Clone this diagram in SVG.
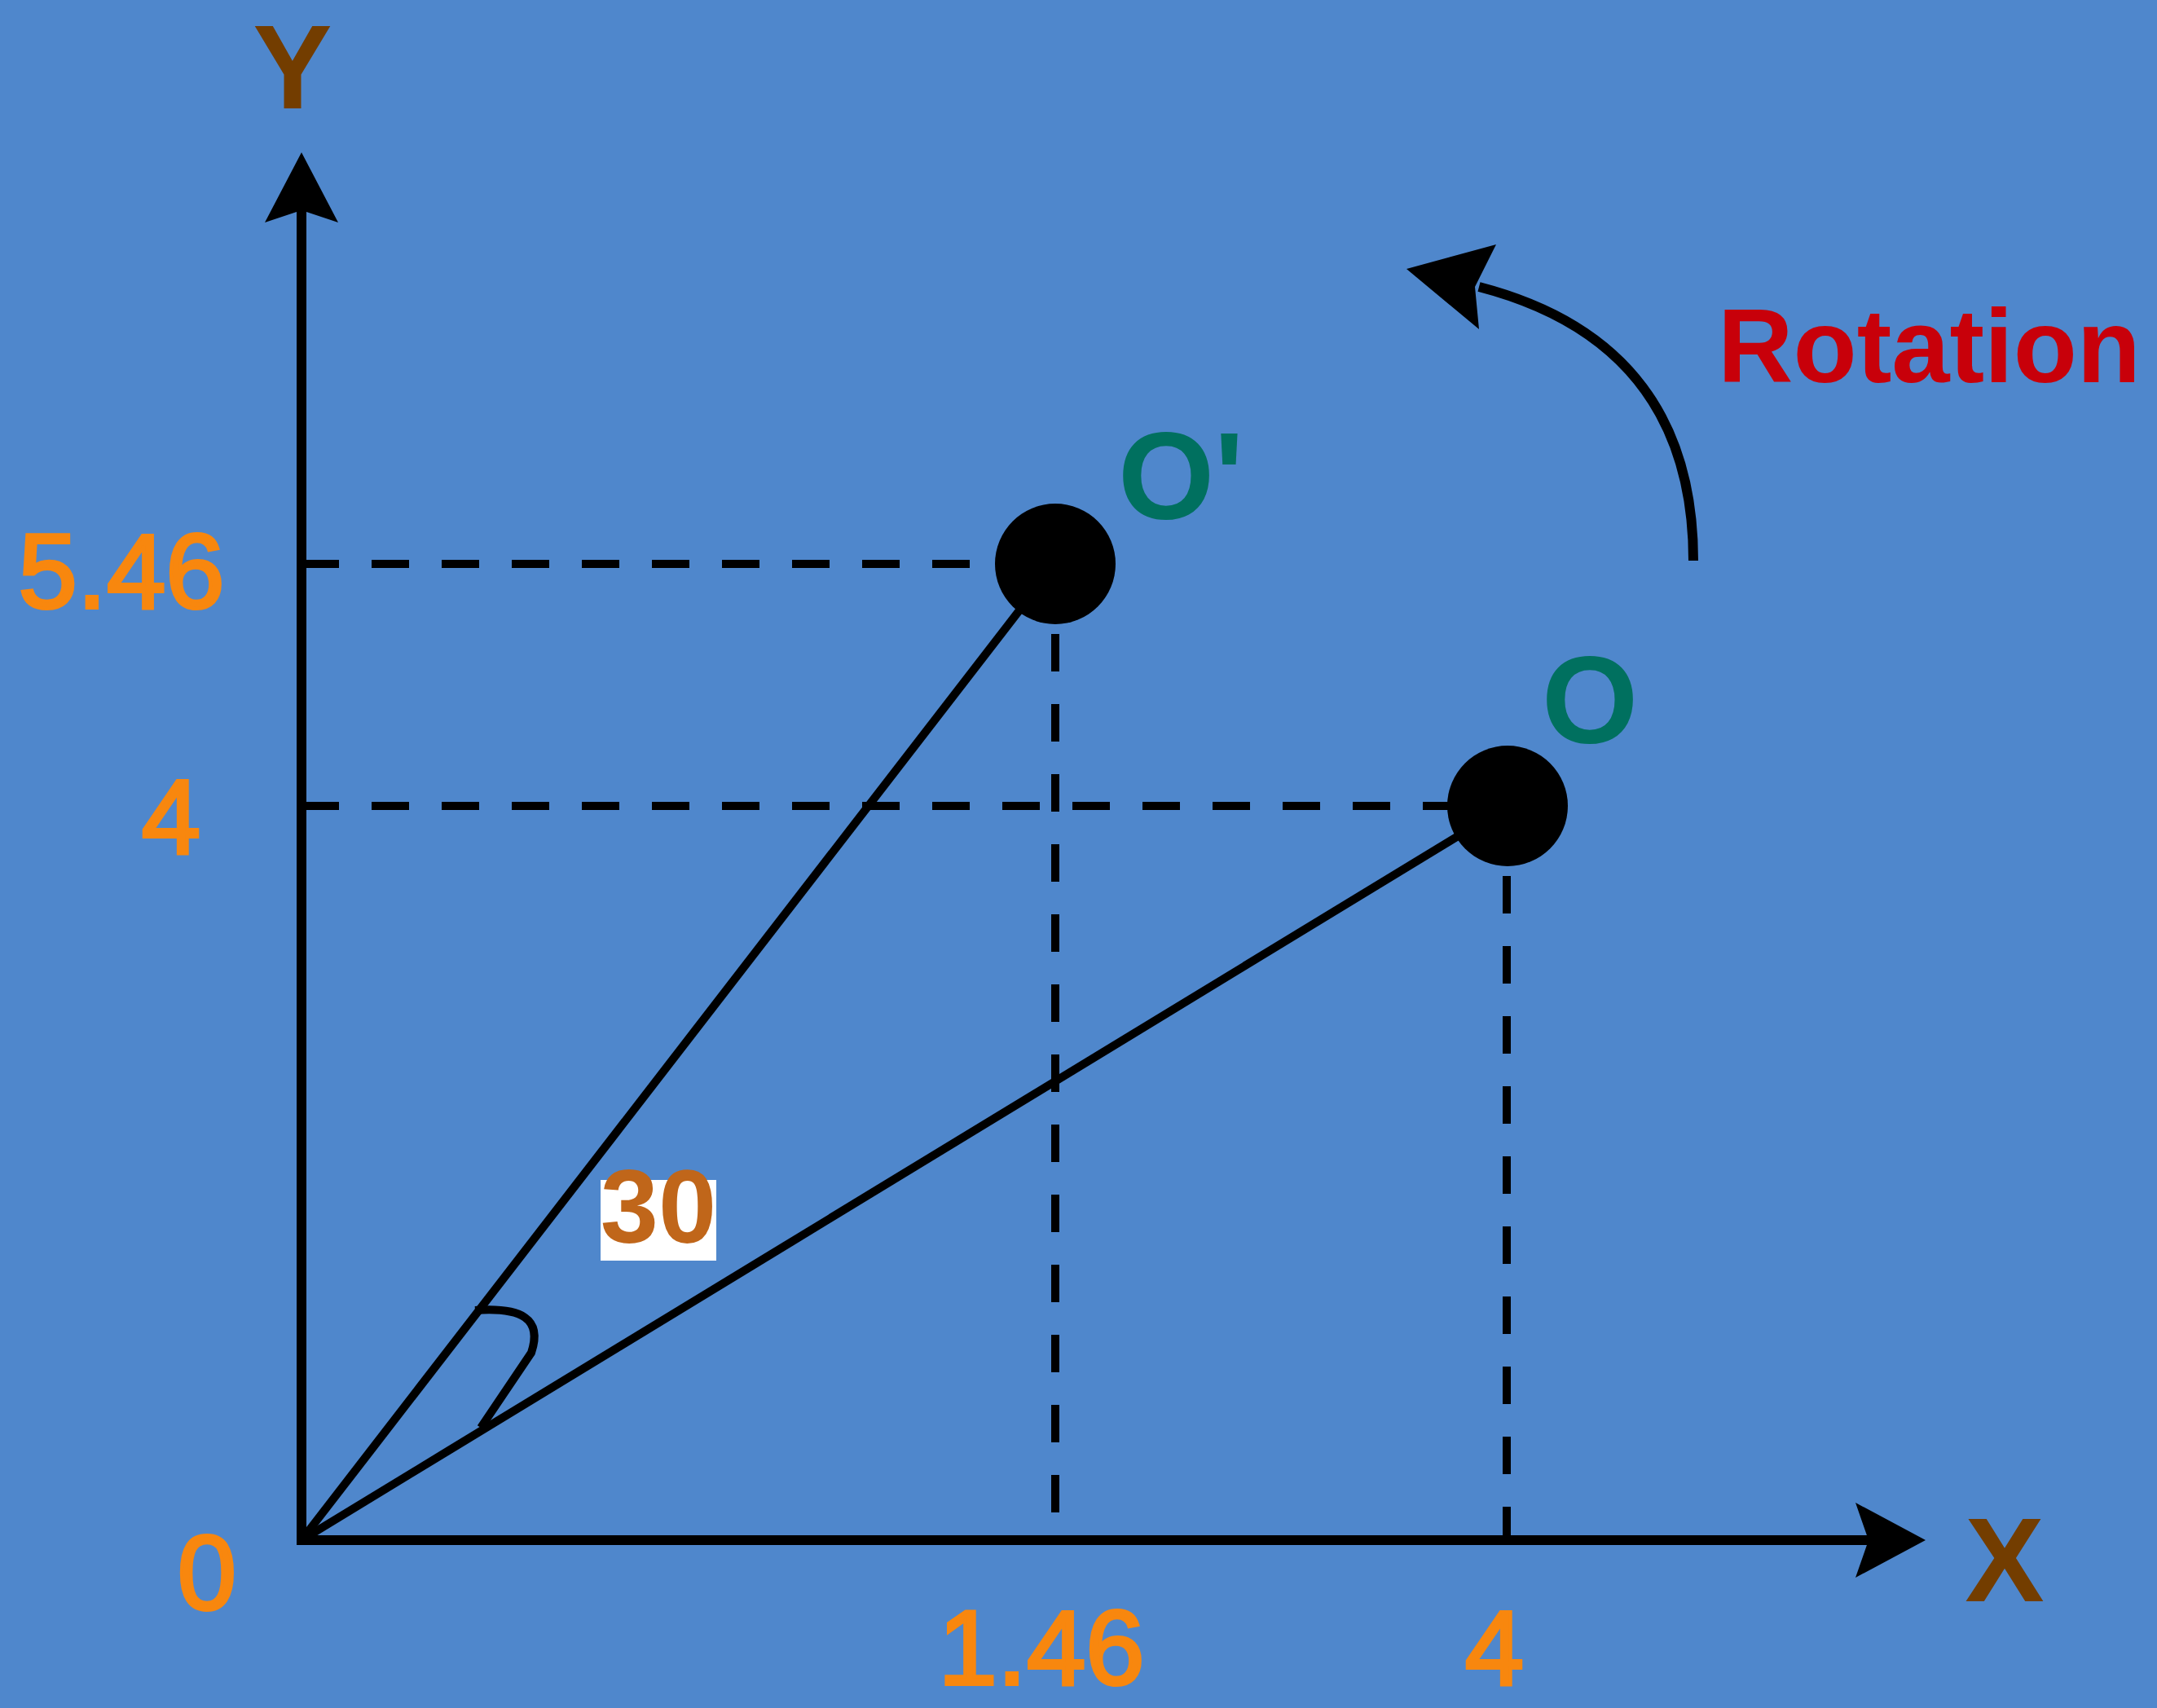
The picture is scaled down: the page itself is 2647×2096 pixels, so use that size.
<svg xmlns="http://www.w3.org/2000/svg" width="2647" height="2096" viewBox="0 0 2647 2096">
  <style>
    .axis { stroke: #000; stroke-width: 12; fill: none; }
    .ray { stroke: #000; stroke-width: 10; fill: none; }
    .dash { stroke: #000; stroke-width: 10; fill: none; stroke-dasharray: 46 40; }
    .head { fill: #000; stroke: none; }
    .num { font-family: "Liberation Sans", Arial, sans-serif; font-size: 130px; fill: #f8870e; stroke: #f8870e; stroke-width: 4; text-anchor: middle; }
    .axlbl { font-family: "Liberation Sans", Arial, sans-serif; font-size: 146px; font-weight: bold; fill: #733d00; text-anchor: middle; }
    .ptlbl { font-family: "Liberation Sans", Arial, sans-serif; font-size: 152px; font-weight: bold; fill: #00705f; }
    .rot { font-family: "Liberation Sans", Arial, sans-serif; font-size: 128px; font-weight: bold; fill: #c8000a; }
    .ang { font-family: "Liberation Sans", Arial, sans-serif; font-size: 128px; font-weight: bold; fill: #c0661a; text-anchor: middle; }
  </style>
  <rect x="0" y="0" width="2647" height="2096" fill="#4f87cc"/>

  <g id="connectors">
    <line class="dash" x1="370" y1="692" x2="1295" y2="692"/>
    <line class="dash" x1="370" y1="989" x2="1849" y2="989"/>
    <line class="dash" x1="1295" y1="692" x2="1295" y2="1890"/>
    <line class="dash" x1="1849" y1="989" x2="1849" y2="1890"/>
    <line class="ray" x1="370" y1="1890" x2="1295" y2="692"/>
    <line class="ray" x1="370" y1="1890" x2="1850" y2="989"/>
    <path class="ray" d="M 583 1608 C 640 1604 666 1618 652 1660 L 590 1752"/>
    <line class="axis" x1="370" y1="1896" x2="370" y2="255"/>
    <polygon class="head" points="370,187 415,273 370,258 325,273"/>
    <line class="axis" x1="364" y1="1890" x2="2298" y2="1890"/>
    <polygon class="head" points="2363,1890 2277,1936 2293,1890 2277,1844"/>
    <path class="axis" stroke-width="15" d="M 2078 688 C 2078 520 2000 400 1815 352"/>
    <polygon class="head" points="1726,330 1836,300 1810,352 1815,404"/>
  </g>

  <g id="point-O-prime">
    <circle cx="1295" cy="692" r="74" fill="#000"/>
    <text class="ptlbl" x="1372" y="637">O'</text>
  </g>
  <g id="point-O">
    <circle cx="1850" cy="989" r="74" fill="#000"/>
    <text class="ptlbl" x="1892" y="912">O</text>
  </g>

  <g id="axis-labels">
    <text class="axlbl" x="359" y="133">Y</text>
    <text class="axlbl" x="2460" y="1965">X</text>
  </g>

  <g id="tick-labels">
    <text class="num" x="149" y="746">5.46</text>
    <text class="num" x="210" y="1047">4</text>
    <text class="num" x="254" y="1975">0</text>
    <text class="num" x="1278" y="2067">1.46</text>
    <text class="num" x="1834" y="2067">4</text>
  </g>

  <g id="angle-label">
    <rect x="737" y="1448" width="142" height="99" fill="#ffffff"/>
    <text class="ang" x="808" y="1525">30</text>
  </g>

  <g id="rotation-label">
    <text class="rot" x="2108" y="469">Rotation</text>
  </g>
</svg>
